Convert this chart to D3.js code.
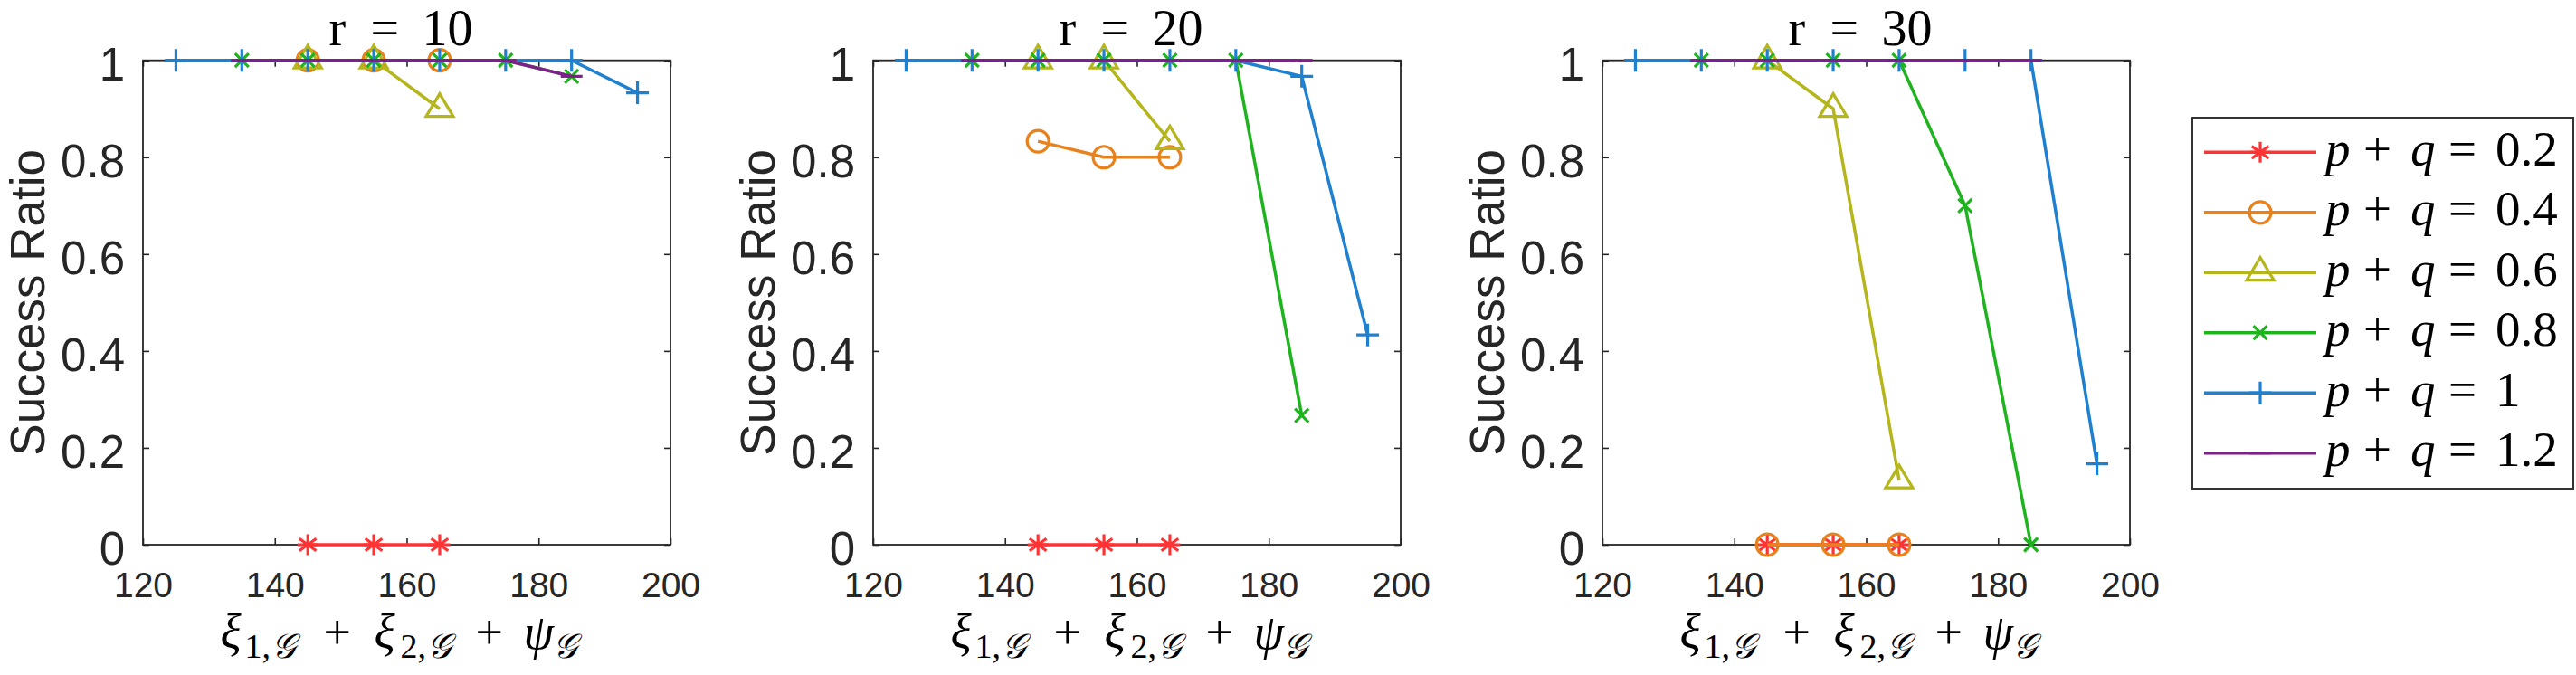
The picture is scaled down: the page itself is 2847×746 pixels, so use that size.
<!DOCTYPE html>
<html><head><meta charset="utf-8">
<script src="https://cdn.jsdelivr.net/npm/d3@7"></script>
<style>body{margin:0;background:#fff} svg{display:block}</style>
</head><body>
<script>
// ---------- data ----------
const panelTitles = ["10", "20", "30"];
const xTicks = [120, 140, 160, 180, 200];
const yTicks = [0, 0.2, 0.4, 0.6, 0.8, 1];
const yTickLabels = ["0", "0.2", "0.4", "0.6", "0.8", "1"];
const seriesLabels = ["0.2", "0.4", "0.6", "0.8", "1", "1.2"];
const seriesColors = ["#ff3333", "#e8821e", "#b5b51c", "#1fb31f", "#1f80d0", "#7f1f8a"];
const seriesMarkers = ["asterisk", "circle", "triangle", "cross", "plus", "hbar"];

const x_pq02 = [145, 155, 165];
const x_pq04 = [145, 155, 165];
const x_pq06 = [145, 155, 165];
const x_pq08 = [135, 145, 155, 165, 175, 185];
const x_pq10 = [125, 135, 145, 155, 165, 175, 185, 195];
const x_pq12 = [135, 145, 155, 165, 175, 185];

const r10_pq02 = [0, 0, 0];
const r10_pq04 = [1, 1, 1];
const r10_pq06 = [1, 1, 0.9];
const r10_pq08 = [1, 1, 1, 1, 1, 0.967];
const r10_pq10 = [1, 1, 1, 1, 1, 1, 1, 0.933];
const r10_pq12 = [1, 1, 1, 1, 1, 0.967];

const r20_pq02 = [0, 0, 0];
const r20_pq04 = [0.833, 0.8, 0.8];
const r20_pq06 = [1, 1, 0.833];
const r20_pq08 = [1, 1, 1, 1, 1, 0.267];
const r20_pq10 = [1, 1, 1, 1, 1, 1, 0.967, 0.433];
const r20_pq12 = [1, 1, 1, 1, 1, 1];

const r30_pq02 = [0, 0, 0];
const r30_pq04 = [0, 0, 0];
const r30_pq06 = [1, 0.9, 0.133];
const r30_pq08 = [1, 1, 1, 1, 0.7, 0];
const r30_pq10 = [1, 1, 1, 1, 1, 1, 1, 0.167];
const r30_pq12 = [1, 1, 1, 1, 1, 1];

const seriesX = [x_pq02, x_pq04, x_pq06, x_pq08, x_pq10, x_pq12];
const panelY = [
  [r10_pq02, r10_pq04, r10_pq06, r10_pq08, r10_pq10, r10_pq12],
  [r20_pq02, r20_pq04, r20_pq06, r20_pq08, r20_pq10, r20_pq12],
  [r30_pq02, r30_pq04, r30_pq06, r30_pq08, r30_pq10, r30_pq12]
];

// ---------- layout ----------
const W = 2847, H = 746;
const panelLefts = [158, 965, 1771];
const plotW = 583;
const plotTop = 66.7, plotBottom = 602;
const axisColor = "#262626";
const sansFont = "'Liberation Sans', Arial, Helvetica, sans-serif";
const serifFont = "'Liberation Serif', 'Times New Roman', serif";
const scriptFont = "'DejaVu Serif', 'DejaVu Sans', 'Noto Sans', serif";

const svg = d3.select("body").append("svg").attr("width", W).attr("height", H);

function markerPath(type) {
  const p = d3.path();
  if (type === "asterisk") {
    const r = 11.5;
    p.moveTo(0, -r); p.lineTo(0, r);
    p.moveTo(-r, 0); p.lineTo(r, 0);
    const a = 0.62, c = Math.cos(a) * r, s = Math.sin(a) * r;
    p.moveTo(-c, -s); p.lineTo(c, s);
    p.moveTo(-c, s); p.lineTo(c, -s);
  } else if (type === "circle") {
    p.arc(0, 0, 12, 0, 2 * Math.PI);
  } else if (type === "triangle") {
    const h = 25, hw = 15;
    p.moveTo(0, -2 * h / 3); p.lineTo(hw, h / 3); p.lineTo(-hw, h / 3); p.closePath();
  } else if (type === "cross") {
    const r = 7.5;
    p.moveTo(-r, -r); p.lineTo(r, r); p.moveTo(-r, r); p.lineTo(r, -r);
  } else if (type === "plus") {
    const r = 12.5;
    p.moveTo(0, -r); p.lineTo(0, r); p.moveTo(-r, 0); p.lineTo(r, 0);
  } else if (type === "hbar") {
    const r = 12;
    p.moveTo(-r, 0); p.lineTo(r, 0);
  }
  return p.toString();
}

panelTitles.forEach((title, pi) => {
  const left = panelLefts[pi];
  const x = d3.scaleLinear().domain([120, 200]).range([left, left + plotW]);
  const y = d3.scaleLinear().domain([0, 1]).range([plotBottom, plotTop]);
  const g = svg.append("g");

  // axes
  const bottom = g.append("g").attr("transform", `translate(0,${plotBottom})`)
    .call(d3.axisBottom(x).tickValues(xTicks).tickSize(-7).tickFormat(d3.format("d")));
  bottom.selectAll("text").attr("y", 58).attr("dy", null)
    .attr("font-family", sansFont).attr("font-size", 39).attr("fill", axisColor);
  const top = g.append("g").attr("transform", `translate(0,${plotTop})`)
    .call(d3.axisTop(x).tickValues(xTicks).tickSize(-7).tickFormat(""));
  const leftAx = g.append("g").attr("transform", `translate(${left},0)`)
    .call(d3.axisLeft(y).tickValues(yTicks).tickSize(-7).tickFormat((d, i) => yTickLabels[i]));
  leftAx.selectAll("text").attr("x", -20).attr("dy", null).attr("y", 21.5)
    .attr("font-family", sansFont).attr("font-size", 51).attr("fill", axisColor);
  const rightAx = g.append("g").attr("transform", `translate(${left + plotW},0)`)
    .call(d3.axisRight(y).tickValues(yTicks).tickSize(-7).tickFormat(""));
  [bottom, top, leftAx, rightAx].forEach(a => {
    a.select(".domain").remove();
    a.selectAll("line").attr("stroke", axisColor).attr("stroke-width", 1.6);
  });
  g.append("rect").attr("x", left).attr("y", plotTop).attr("width", plotW)
    .attr("height", plotBottom - plotTop).attr("fill", "none")
    .attr("stroke", axisColor).attr("stroke-width", 1.8);

  // series
  const line = d3.line().x(d => x(d[0])).y(d => y(d[1]));
  seriesLabels.forEach((lab, si) => {
    const pts = seriesX[si].map((xv, k) => [xv, panelY[pi][si][k]]);
    const sg = g.append("g");
    sg.append("path").attr("d", line(pts)).attr("fill", "none")
      .attr("stroke", seriesColors[si]).attr("stroke-width", 3.5).attr("stroke-linejoin", "round");
    sg.selectAll("path.m").data(pts).enter().append("path").attr("class", "m")
      .attr("transform", d => `translate(${x(d[0])},${y(d[1])})`)
      .attr("d", markerPath(seriesMarkers[si]))
      .attr("fill", "none").attr("stroke", seriesColors[si]).attr("stroke-width", 3.2);
  });

  // title
  const cx = left + plotW / 2;
  const t = g.append("text").attr("y", 50).attr("font-family", serifFont).attr("font-size", 56).attr("fill", "#000");
  t.append("tspan").attr("x", cx - 86).text("r");
  t.append("tspan").attr("x", cx - 40).text("=");
  t.append("tspan").attr("x", cx + 17).text(title);

  // y label
  g.append("text").attr("transform", `translate(${left - 109},${(plotTop + plotBottom) / 2}) rotate(-90)`)
    .attr("text-anchor", "middle").attr("font-family", sansFont).attr("font-size", 53)
    .attr("fill", axisColor).text("Success Ratio");

  // x label
  const xl = g.append("text").attr("y", 717).attr("font-family", serifFont).attr("font-size", 54).attr("fill", "#000");
  const pieces = [
    {dx: -206, txt: "ξ", it: true},
    {dx: -179, txt: "1,", sub: true},
    {dx: -150, txt: "𝒢", sub: true, scr: true},
    {dx: -92, txt: "+"},
    {dx: -36, txt: "ξ", it: true},
    {dx: -7, txt: "2,", sub: true},
    {dx: 22, txt: "𝒢", sub: true, scr: true},
    {dx: 76, txt: "+"},
    {dx: 129, txt: "ψ", it: true},
    {dx: 161, txt: "𝒢", sub: true, scr: true}
  ];
  pieces.forEach(pc => {
    const ts = xl.append("tspan").attr("x", cx + pc.dx).text(pc.txt);
    if (pc.it) ts.attr("font-style", "italic");
    if (pc.sub) ts.attr("y", 727).attr("font-size", 38); else ts.attr("y", 717);
    if (pc.scr) ts.attr("font-family", scriptFont).attr("font-style", "italic");
  });
});

// legend
const lg = svg.append("g");
lg.append("rect").attr("x", 2423).attr("y", 130).attr("width", 421).attr("height", 410)
  .attr("fill", "#fff").attr("stroke", "#333").attr("stroke-width", 2);
const rowY = d3.scalePoint().domain(seriesLabels).range([168.3, 500.7]);
seriesLabels.forEach((lab, si) => {
  const yy = rowY(lab);
  lg.append("line").attr("x1", 2436).attr("x2", 2560).attr("y1", yy).attr("y2", yy)
    .attr("stroke", seriesColors[si]).attr("stroke-width", 3.5);
  lg.append("path").attr("transform", `translate(2498,${yy})`).attr("d", markerPath(seriesMarkers[si]))
    .attr("fill", "none").attr("stroke", seriesColors[si]).attr("stroke-width", 3.2);
  const tx = lg.append("text").attr("y", yy + 14.5).attr("font-family", serifFont).attr("font-size", 55).attr("fill", "#000");
  tx.append("tspan").attr("x", 2570).attr("font-style", "italic").text("p");
  tx.append("tspan").attr("x", 2612).text("+");
  tx.append("tspan").attr("x", 2664).attr("font-style", "italic").text("q");
  tx.append("tspan").attr("x", 2706).text("=");
  tx.append("tspan").attr("x", 2758).text(lab);
});
</script>
</body></html>
